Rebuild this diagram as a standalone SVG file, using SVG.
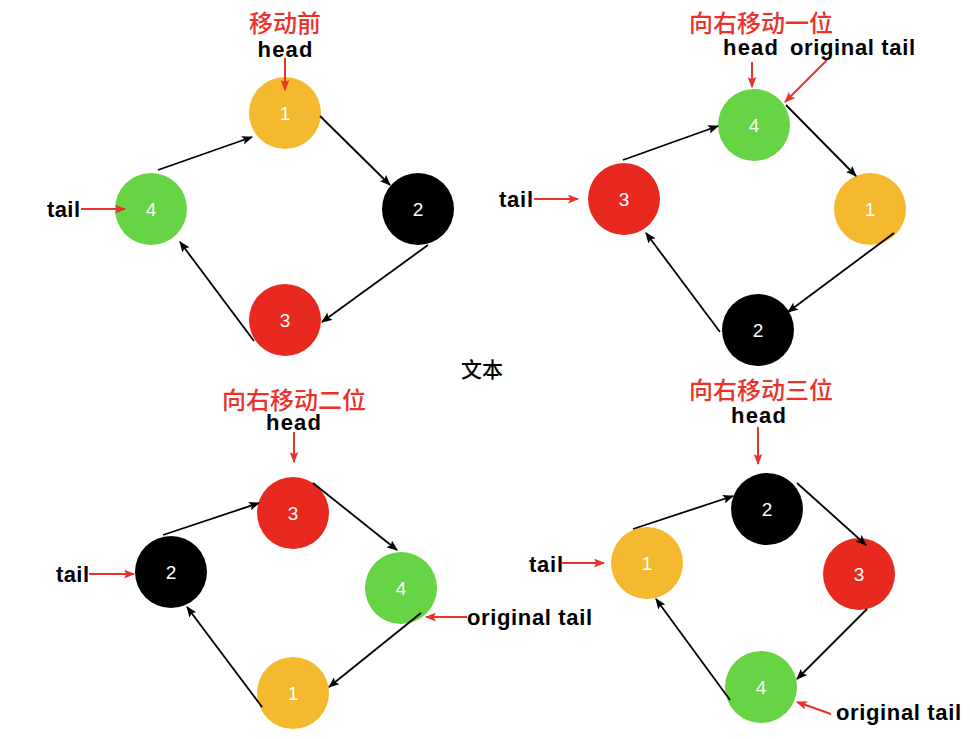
<svg xmlns="http://www.w3.org/2000/svg" width="970" height="739" viewBox="0 0 970 739">
<defs>
<style>
.y{fill:#F4B92E}.g{fill:#66D444}.r{fill:#E8291F}.k{fill:#000}
.num{font-family:"Liberation Sans",Arial,sans-serif;font-size:19px;fill:#fff;text-anchor:middle}
.cn{font-family:"Noto Sans CJK SC",sans-serif;font-size:24px;font-weight:500;fill:#E8322A;text-anchor:middle}
.lb{font-family:"Liberation Sans",Arial,sans-serif;font-size:22px;font-weight:bold;fill:#000}
.mid{text-anchor:middle}
.blk{stroke:#000;stroke-width:1.8;fill:none;marker-end:url(#ab)}
.red{stroke:#E8322A;stroke-width:2;fill:none;marker-end:url(#ar)}
</style>
<marker id="ab" viewBox="0 0 10 8" refX="9" refY="4" markerWidth="11" markerHeight="9" markerUnits="userSpaceOnUse" orient="auto"><path d="M0,0 L10,4 L0,8 L2,4 z" fill="#000"/></marker>
<marker id="ar" viewBox="0 0 10 8" refX="9" refY="4" markerWidth="11" markerHeight="9" markerUnits="userSpaceOnUse" orient="auto"><path d="M0,0 L10,4 L0,8 L2,4 z" fill="#E8322A"/></marker>
</defs>
<rect width="970" height="739" fill="#fff"/>

<!-- Top-left: 移动前 -->
<g id="tl-n1"><circle class="y" cx="285" cy="113" r="36"/><text class="num" x="285" y="120">1</text></g>
<g id="tl-n2"><circle class="k" cx="418" cy="209" r="36"/><text class="num" x="418" y="216">2</text></g>
<g id="tl-n3"><circle class="r" cx="285" cy="320" r="36"/><text class="num" x="285" y="327">3</text></g>
<g id="tl-n4"><circle class="g" cx="151" cy="209" r="36"/><text class="num" x="151" y="216">4</text></g>
<g id="tl-labels">
<text class="cn" x="285" y="32">移动前</text>
<text class="lb mid" x="285" y="57" textLength="55">head</text>
<text class="lb" x="47" y="217" textLength="33">tail</text>
</g>

<!-- Top-right: 向右移动一位 -->
<g id="tr-n4"><circle class="g" cx="754" cy="125" r="36"/><text class="num" x="754" y="132">4</text></g>
<g id="tr-n1"><circle class="y" cx="870" cy="209" r="36"/><text class="num" x="870" y="216">1</text></g>
<g id="tr-n2"><circle class="k" cx="758" cy="330" r="36"/><text class="num" x="758" y="337">2</text></g>
<g id="tr-n3"><circle class="r" cx="624" cy="199" r="36"/><text class="num" x="624" y="206">3</text></g>
<g id="tr-labels">
<text class="cn" x="761" y="32">向右移动一位</text>
<text class="lb" x="723" y="55" textLength="55">head</text>
<text class="lb" x="790" y="55" textLength="125">original tail</text>
<text class="lb" x="499" y="207" textLength="34">tail</text>
</g>

<!-- Bottom-left: 向右移动二位 -->
<g id="bl-n3"><circle class="r" cx="293" cy="513" r="36"/><text class="num" x="293" y="520">3</text></g>
<g id="bl-n4"><circle class="g" cx="401" cy="588" r="36"/><text class="num" x="401" y="595">4</text></g>
<g id="bl-n1"><circle class="y" cx="293" cy="693" r="36"/><text class="num" x="293" y="700">1</text></g>
<g id="bl-n2"><circle class="k" cx="171" cy="572" r="36"/><text class="num" x="171" y="579">2</text></g>
<g id="bl-labels">
<text class="cn" x="294" y="409">向右移动二位</text>
<text class="lb" x="266" y="430" textLength="55">head</text>
<text class="lb" x="56" y="582" textLength="33">tail</text>
<text class="lb" x="467" y="625" textLength="125">original tail</text>
</g>

<!-- Bottom-right: 向右移动三位 -->
<g id="br-n2"><circle class="k" cx="767" cy="509" r="36"/><text class="num" x="767" y="516">2</text></g>
<g id="br-n3"><circle class="r" cx="859" cy="574" r="36"/><text class="num" x="859" y="581">3</text></g>
<g id="br-n4"><circle class="g" cx="761" cy="687" r="36"/><text class="num" x="761" y="694">4</text></g>
<g id="br-n1"><circle class="y" cx="647" cy="563" r="36"/><text class="num" x="647" y="570">1</text></g>
<g id="br-labels">
<text class="cn" x="761" y="399">向右移动三位</text>
<text class="lb" x="731" y="423" textLength="55">head</text>
<text class="lb" x="529" y="572" textLength="34">tail</text>
<text class="lb" x="836" y="720" textLength="125">original tail</text>
</g>

<g id="center-text"><text x="482" y="377" font-family="Noto Sans CJK SC, sans-serif" font-size="21" font-weight="500" fill="#000" text-anchor="middle">文本</text></g>

<g id="connectors">
<!-- top-left -->
<line class="blk" x1="158" y1="170" x2="252" y2="137"/>
<line class="blk" x1="320" y1="116" x2="390" y2="185"/>
<line class="blk" x1="428" y1="245" x2="322" y2="322"/>
<line class="blk" x1="254" y1="341" x2="180" y2="242"/>
<line class="red" x1="285" y1="58" x2="285" y2="90"/>
<line class="red" x1="81" y1="209" x2="125" y2="209"/>
<!-- top-right -->
<line class="blk" x1="623" y1="160" x2="718" y2="126"/>
<line class="blk" x1="786" y1="105" x2="856" y2="176"/>
<line class="blk" x1="894" y1="233" x2="788" y2="312"/>
<line class="blk" x1="720" y1="332" x2="646" y2="233"/>
<line class="red" x1="752" y1="62" x2="752" y2="87"/>
<line class="red" x1="827" y1="60" x2="785" y2="102"/>
<line class="red" x1="534" y1="199" x2="578" y2="199"/>
<!-- bottom-left -->
<line class="blk" x1="163" y1="535" x2="259" y2="503"/>
<line class="blk" x1="313" y1="483" x2="397" y2="550"/>
<line class="blk" x1="421" y1="613" x2="329" y2="687"/>
<line class="blk" x1="262" y1="707" x2="187" y2="607"/>
<line class="red" x1="294" y1="432" x2="294" y2="462"/>
<line class="red" x1="89" y1="574" x2="134" y2="574"/>
<line class="red" x1="467" y1="617" x2="426" y2="617"/>
<!-- bottom-right -->
<line class="blk" x1="633" y1="529" x2="733" y2="496"/>
<line class="blk" x1="797" y1="483" x2="866" y2="545"/>
<line class="blk" x1="867" y1="609" x2="797" y2="679"/>
<line class="blk" x1="730" y1="700" x2="656" y2="599"/>
<line class="red" x1="758" y1="427" x2="758" y2="464"/>
<line class="red" x1="562" y1="563" x2="604" y2="563"/>
<line class="red" x1="831" y1="714" x2="797" y2="702"/>
</g>
</svg>
